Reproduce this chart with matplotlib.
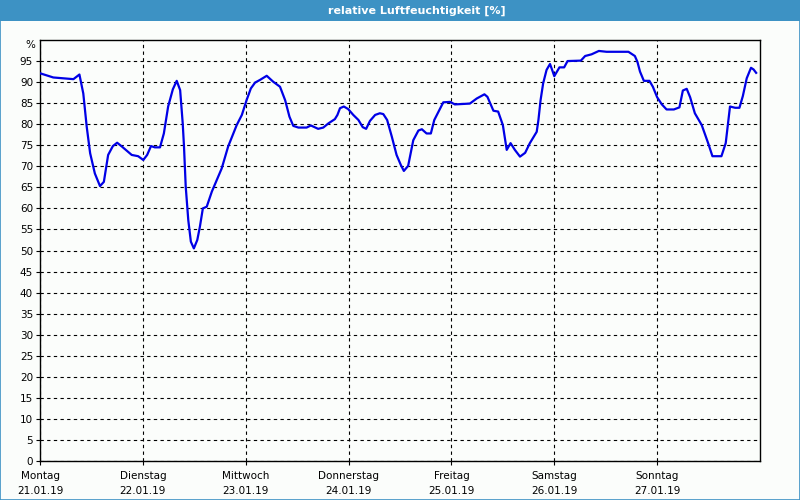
import matplotlib.pyplot as plt
from matplotlib.patches import Rectangle

# hours since Montag 21.01.19 00:00
hours = [0, 3.1, 7.8, 9.2, 10.1, 10.9, 11.7, 12.8, 14.0, 14.9, 15.9, 17.0, 18.0,
         19.1, 21.4, 22.9, 24.1, 25.0, 25.9, 26.8, 28.0, 28.9, 29.9, 31.0, 31.9,
         32.7, 33.3, 33.6, 34.0, 34.6, 35.2, 35.9, 36.7, 37.3, 38.0, 38.9, 40.1,
         42.4, 43.9, 45.9, 47.1, 48.2, 49.2, 50.2, 51.3, 52.9, 54.4, 56.0, 57.2,
         58.2, 59.1, 60.3, 62.2, 63.2, 64.9, 66.1, 67.3, 68.8, 69.4, 70.0, 70.9,
         71.9, 73.1, 74.3, 75.3, 76.1, 77.0, 78.2, 79.3, 80.1, 81.0, 82.1, 83.2,
         84.2, 84.9, 85.9, 87.1, 88.3, 89.1, 90.2, 91.2, 92.0, 93.2, 94.1, 95.7,
         96.8, 100.3, 101.9, 103.7, 104.4, 105.8, 106.9, 108.0, 108.9, 109.8,
         110.8, 112.0, 113.2, 114.3, 115.9, 116.3, 116.8, 117.4, 118.2, 119.0,
         119.5, 120.0, 121.2, 122.3, 123.1, 126.2, 127.2, 128.7, 130.4, 132.2,
         137.3, 138.8, 139.4, 140.0, 140.9, 142.2, 143.0, 144.0, 145.1, 146.2,
         147.9, 149.2, 150.0, 150.9, 151.7, 152.8, 154.4, 155.9, 156.9, 159.0,
         160.0, 161.0, 162.2, 163.2, 164.0, 164.9, 165.9, 166.5, 167.1]
humidity = [92.1, 91.1, 90.7, 91.8, 87.3, 79.4, 73.1, 68.3, 65.3, 66.3, 72.7, 74.8,
            75.6, 74.7, 72.7, 72.4, 71.5, 72.7, 74.8, 74.5, 74.5, 77.8, 84.2, 88.3,
            90.3, 88.1, 80.2, 74.7, 65.2, 57.2, 52.1, 50.5, 52.5, 55.6, 60.0, 60.4,
            64.0, 69.5, 74.7, 79.8, 82.2, 85.7, 88.5, 89.9, 90.5, 91.5, 90.1, 88.9,
            85.7, 81.8, 79.6, 79.2, 79.2, 79.7, 78.9, 79.2, 80.2, 81.2, 82.2, 83.8,
            84.2, 83.6, 82.2, 81.0, 79.3, 78.9, 80.8, 82.2, 82.6, 82.4, 81.0, 77.0,
            72.7, 70.3, 68.9, 70.1, 76.2, 78.5, 78.8, 77.8, 77.8, 81.0, 83.4, 85.2,
            85.3, 84.7, 84.9, 86.1, 87.1, 86.5, 83.2, 83.0, 79.8, 73.9, 75.5, 73.9,
            72.3, 73.2, 75.5, 78.2, 81.0, 85.7, 89.7, 92.9, 94.3, 92.9, 91.4, 93.5,
            93.5, 95.0, 95.1, 96.2, 96.6, 97.4, 97.2, 97.2, 96.2, 94.8, 92.5, 90.3,
            90.3, 88.9, 86.4, 84.7, 83.5, 83.5, 84.0, 88.0, 88.4, 86.4, 82.6, 79.8,
            75.5, 72.4, 72.4, 75.5, 84.2, 83.9, 83.9, 86.7, 90.9, 93.4, 93.0, 92.2]

day_labels = ["Montag\n21.01.19", "Dienstag\n22.01.19", "Mittwoch\n23.01.19",
              "Donnerstag\n24.01.19", "Freitag\n25.01.19", "Samstag\n26.01.19",
              "Sonntag\n27.01.19"]
day_ticks = [0, 24, 48, 72, 96, 120, 144]
y_ticks = list(range(0, 100, 5))

bg = "#fbfdfb"
bar_blue = "#3d92c4"

fig = plt.figure(figsize=(8, 5), dpi=100, facecolor=bg)

# title bar and frame
fig.patches.append(Rectangle((0, 0.958), 1, 0.042, transform=fig.transFigure,
                             facecolor=bar_blue, edgecolor="none", zorder=0))
fig.patches.append(Rectangle((0.0006, 0.001), 0.9988, 0.998, transform=fig.transFigure,
                             facecolor="none", edgecolor=bar_blue, lw=1.2, zorder=1))
fig.text(0.521, 0.979, "relative Luftfeuchtigkeit [%]", color="white",
         fontsize=8, fontweight="bold", ha="center", va="center")

ax = fig.add_axes([0.05, 0.078, 0.9, 0.842])
ax.set_facecolor(bg)
ax.plot(hours, humidity, color="#0000e6", lw=1.6, zorder=3)

ax.set_xlim(0, 168)
ax.set_ylim(0, 100)
ax.set_xticks(day_ticks)
ax.set_xticklabels(day_labels, fontsize=7.5, linespacing=1.6)
ax.set_yticks(y_ticks)
ax.set_yticklabels([str(v) for v in y_ticks], fontsize=7.5)
ax.tick_params(length=3, width=0.8, color="black", pad=2)
ax.tick_params(axis="x", pad=4)
ax.text(-0.006, 1.0 - 0.012, "%", transform=ax.transAxes, ha="right", va="center",
        fontsize=7.5)

ax.grid(True, color="black", lw=0.8, linestyle=(0, (3, 3)))
for s in ax.spines.values():
    s.set_linewidth(1.0)
    s.set_color("black")

fig.savefig("out.png", dpi=100, facecolor=bg)
